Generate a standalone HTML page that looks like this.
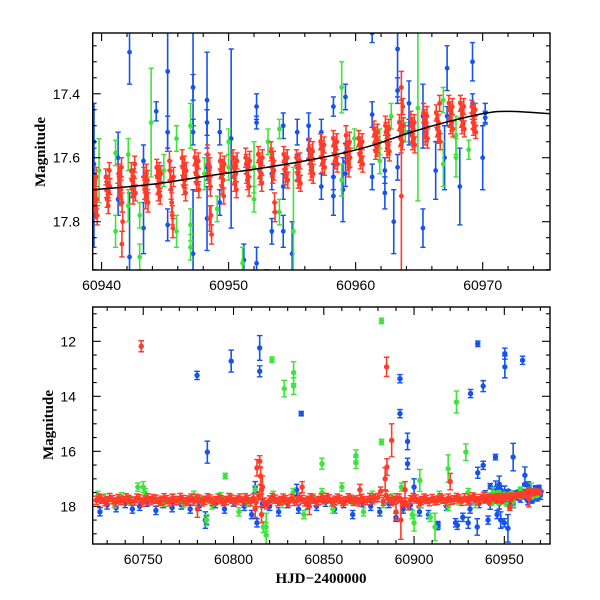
<!DOCTYPE html>
<html>
<head>
<meta charset="utf-8">
<style>
html,body{margin:0;padding:0;background:#fff;width:600px;height:600px;overflow:hidden;}
svg{display:block;}
.tick{font-family:"Liberation Sans",sans-serif;font-size:14px;fill:#000;}
.title{font-family:"Liberation Serif",serif;font-size:15px;font-weight:bold;fill:#000;}
</style>
</head>
<body>
<svg id="chart" width="600" height="600" viewBox="0 0 600 600" xmlns="http://www.w3.org/2000/svg">
<defs>
<clipPath id="clipTop"><rect x="92.7" y="33" width="457.3" height="237"/></clipPath>
<clipPath id="clipBot"><rect x="92.7" y="307" width="457.3" height="237"/></clipPath>
</defs>
<g id="topData" clip-path="url(#clipTop)"></g>
<g id="botData" clip-path="url(#clipBot)"></g>
<g id="axes"></g>
<text class="title" transform="translate(45,152) rotate(-90)" text-anchor="middle">Magnitude</text>
<text class="title" transform="translate(53,425) rotate(-90)" text-anchor="middle">Magnitude</text>
<text class="title" x="321" y="583" text-anchor="middle">HJD−2400000</text>
</svg>
<script>
// ---- data ----
const topXTicks = [60940, 60950, 60960, 60970];
const topYTicks = [17.4, 17.6, 17.8];
const botXTicks = [60750, 60800, 60850, 60900, 60950];
const botYTicks = [12, 14, 16, 18];

const redNightT = [60939.5,60940.5,60941.5,60942.5,60943.5,60944.5,60945.5,60946.5,60947.5,60948.5,60949.5,60950.5,60951.5,60952.5,60953.5,60954.5,60955.5,60956.5,60957.4,60958.4,60959.4,60960.4,60961.6,60962.5,60963.6,60964.5,60965.5,60966.5,60967.5,60968.4,60969.3];
const redNightMags = [
[17.68,17.72,17.74,17.70,17.76,17.66,17.73,17.78],
[17.66,17.70,17.73,17.68,17.75,17.71,17.64,17.69],
[17.65,17.69,17.72,17.66,17.70,17.63,17.74,17.80],
[17.64,17.67,17.70,17.72,17.66,17.69,17.62,17.71],
[17.66,17.70,17.68,17.73,17.65,17.71,17.67,17.74],
[17.63,17.66,17.69,17.71,17.64,17.68,17.72,17.65],
[17.61,17.64,17.67,17.70,17.74,17.78,17.82,17.66],
[17.60,17.63,17.66,17.69,17.62,17.67,17.71,17.64],
[17.60,17.62,17.65,17.68,17.63,17.66,17.61,17.70],
[17.59,17.62,17.65,17.67,17.63,17.69,17.78,17.84],
[17.61,17.64,17.66,17.69,17.63,17.67,17.72,17.62],
[17.60,17.63,17.66,17.68,17.62,17.65,17.70,17.61],
[17.60,17.62,17.65,17.67,17.63,17.66,17.69,17.61],
[17.59,17.61,17.64,17.66,17.62,17.65,17.68,17.60],
[17.58,17.60,17.63,17.65,17.61,17.64,17.74,17.77],
[17.59,17.61,17.64,17.66,17.62,17.65,17.60,17.67],
[17.60,17.62,17.65,17.67,17.63,17.66,17.61,17.68],
[17.57,17.59,17.62,17.64,17.60,17.63,17.58,17.65],
[17.55,17.57,17.60,17.62,17.58,17.61,17.56,17.63],
[17.54,17.56,17.59,17.61,17.57,17.60,17.55,17.62],
[17.53,17.56,17.58,17.61,17.59,17.63,17.55,17.60],
[17.54,17.56,17.59,17.61,17.57,17.60,17.55,17.62],
[17.51,17.53,17.55,17.58,17.54,17.57,17.52,17.56],
[17.50,17.52,17.55,17.57,17.53,17.56,17.51,17.58],
[17.49,17.51,17.54,17.56,17.52,17.55,17.44,17.50],
[17.48,17.50,17.53,17.55,17.51,17.54,17.49,17.56],
[17.46,17.48,17.51,17.53,17.49,17.52,17.47,17.54],
[17.46,17.48,17.51,17.53,17.49,17.52,17.43,17.55],
[17.43,17.45,17.48,17.50,17.46,17.49,17.44,17.51],
[17.43,17.45,17.48,17.50,17.46,17.49,17.44,17.51],
[17.44,17.46,17.49,17.51,17.47,17.50,17.45,17.52]];
const redNightErr = [0.03,0.025,0.03,0.025,0.03,0.025,0.03,0.025,0.025,0.03,0.025,0.025,0.03,0.025,0.03,0.025,0.025,0.03,0.025,0.025,0.03,0.025,0.025,0.03,0.025,0.025,0.03,0.025,0.025,0.025,0.02];

const redBandT = [60724,60727,60730,60733,60736,60739,60742,60745,60748,60751,60754,60757,60760,60763,60766,60769,60772,60775,60778,60781,60784,60787,60790,60793,60796,60799,60802,60805,60808,60811,60814,60817,60820,60823,60826,60829,60832,60835,60838,60841,60844,60847,60850,60853,60856,60859,60862,60865,60868,60871,60874,60877,60880,60883,60886,60889,60892,60895,60898,60901,60904,60907,60910,60913,60916,60919,60922,60925,60928,60931,60934,60937];
const redBandM = [17.78,17.74,17.80,17.76,17.72,17.79,17.75,17.81,17.73,17.77,17.80,17.74,
17.78,17.76,17.71,17.79,17.75,17.77,17.82,17.74,17.78,17.73,17.80,17.76,
17.79,17.74,17.77,17.81,17.75,17.70,17.62,17.85,17.77,17.74,17.79,17.76,
17.72,17.80,17.75,17.78,17.74,17.79,17.76,17.73,17.78,17.75,17.80,17.74,
17.77,17.71,17.79,17.76,17.68,17.82,17.74,17.78,17.70,17.85,17.76,17.73,
17.79,17.75,17.72,17.78,17.74,17.70,17.76,17.73,17.69,17.74,17.71,17.72];
const redBand2M = [17.70,17.83,17.68,17.84,17.79,17.69,17.82,17.70,17.85,17.69,17.72,17.83,
17.69,17.84,17.80,17.68,17.83,17.70,17.71,17.84,17.69,17.82,17.70,17.83,
17.68,17.83,17.70,17.69,17.84,17.86,17.40,17.95,17.68,17.83,17.70,17.84,
17.82,17.68,17.84,17.69,17.83,17.70,17.68,17.84,17.70,17.83,17.69,17.82,
17.84,17.80,17.68,17.70,17.45,17.60,17.83,17.69,17.85,17.98,17.68,17.84,
17.70,17.83,17.80,17.69,17.83,17.78,17.68,17.82,17.80,17.66,17.80,17.64];

const redOut = [[60748.9,12.18,0.2],[60884.8,12.93,0.35],[60887.6,15.6,0.6],[60885,16.57,0.3],[60884,17.0,0.4],[60813,16.6,0.3],[60814.5,16.36,0.2],[60815,16.9,0.3],[60816,17.3,0.4],[60812,18.1,0.3],[60815.5,18.3,0.3],[60890,18.2,0.3],[60892.7,18.5,0.7],[60895,17.4,0.3],[60838,17.3,0.2],[60842,18.0,0.3],[60780,18.1,0.3],[60870,17.4,0.2],[60920,17.1,0.3],[60953,18.05,0.1],[60941.6,17.87,0.04],[60948.5,17.79,0.04],[60963.6,17.38,0.05],[60963.6,17.72,0.30]];

const blueTop = [[60939.4,17.55,0.12],[60939.4,17.78,0.10],[60939.4,17.62,0.05],[60942.2,17.27,0.10],[60942.2,17.91,0.20],[60941.3,17.60,0.08],[60941.3,17.73,0.05],[60943.3,17.61,0.05],[60943.3,17.82,0.08],[60944.3,17.455,0.03],[60945.2,17.33,0.25],[60945.2,17.52,0.05],[60945.2,17.81,0.05],[60947.2,17.20,0.30],[60947.2,17.38,0.04],[60947.2,17.52,0.04],[60947.2,17.90,0.20],[60948.3,17.42,0.15],[60948.3,17.49,0.04],[60948.3,17.63,0.04],[60948.3,17.79,0.10],[60949.3,17.52,0.04],[60949.3,17.74,0.04],[60950.2,17.54,0.28],[60951.2,17.92,0.05],[60952.2,17.44,0.04],[60952.2,17.49,0.02],[60952.2,17.93,0.05],[60953.4,17.65,0.05],[60953.4,17.83,0.04],[60954.3,17.50,0.04],[60954.3,17.69,0.04],[60954.3,17.83,0.05],[60955.4,17.52,0.04],[60955.4,17.63,0.04],[60956.3,17.50,0.04],[60956.3,17.575,0.03],[60957.3,17.52,0.04],[60957.3,17.69,0.04],[60958.25,17.44,0.03],[60958.25,17.66,0.04],[60958.25,17.72,0.06],[60959.2,17.41,0.04],[60959.2,17.585,0.03],[60959.2,17.65,0.04],[60961.3,17.21,0.03],[60961.3,17.465,0.04],[60961.3,17.66,0.04],[60962.3,17.64,0.04],[60962.3,17.71,0.05],[60963.3,17.26,0.15],[60963.3,17.39,0.04],[60963.3,17.63,0.04],[60964.2,17.43,0.07],[60964.2,17.52,0.04],[60965.3,17.82,0.06],[60965.3,17.47,0.10],[60966.3,17.64,0.09],[60967.2,17.32,0.07],[60967.2,17.47,0.03],[60968.2,17.69,0.12],[60969.2,17.30,0.06],[60969.2,17.43,0.03],[60970.2,17.46,0.03],[60970.2,17.475,0.02]];

const blueBandT = [60726,60730,60735,60740,60744,60748,60752,60757,60761,60766,60771,60776,60781,60785,60790,60795,60800,60806,60810,60813,60816,60820,60825,60830,60836,60841,60846,60851,60856,60861,60866,60871,60876,60881,60886,60890,60894,60898,60903,60908,60913,60918,60923,60927,60931,60936,60941,60946,60950,60955,60959,60963,60967,60970];
const blueBandM = [18.2,17.95,18.05,17.9,18.1,18.0,17.85,18.15,17.9,18.05,17.95,18.1,18.0,18.5,17.9,18.1,17.85,18.0,18.3,18.6,17.9,18.0,18.2,17.9,18.1,17.95,18.0,17.85,18.1,17.9,18.3,17.85,18.0,18.2,17.9,18.4,18.1,17.95,18.2,18.3,18.7,18.0,18.6,18.4,18.1,17.9,18.5,18.3,18.6,17.9,17.7,17.8,17.6,17.6];

const blueOut = [[60779.8,13.24,0.15],[60798.7,12.72,0.4],[60814.5,12.24,0.45],[60814.5,13.09,0.2],[60837.5,14.63,0.08],[60785.5,16.03,0.4],[60892.2,13.36,0.15],[60892.2,14.63,0.15],[60896.4,15.64,0.3],[60896.4,16.45,0.2],[60931.3,13.9,0.15],[60938.3,13.63,0.2],[60935.3,12.09,0.1],[60950.3,12.45,0.2],[60950.3,12.93,0.4],[60960.1,12.69,0.15],[60945.1,16.21,0.1],[60954.9,16.21,0.5],[60938.3,16.51,0.15],[60935.3,16.78,0.2],[60961.4,16.87,0.3],[60913.3,18.69,0.1],[60924,18.69,0.15],[60930,18.6,0.2],[60935,18.75,0.3],[60948,18.5,0.3],[60952,18.8,0.5],[60784.4,18.5,0.3],[60812,17.3,0.2],[60835,17.4,0.2],[60900,17.3,0.3]];

const greenTop = [[60939.8,17.64,0.10],[60941.1,17.83,0.05],[60941.1,17.585,0.04],[60942.1,17.59,0.05],[60942.1,17.75,0.05],[60943.0,17.78,0.04],[60943.0,17.91,0.04],[60943.9,17.49,0.17],[60944.9,17.64,0.05],[60945.9,17.54,0.04],[60945.9,17.83,0.05],[60947.0,17.50,0.07],[60947.0,17.81,0.05],[60947.0,17.88,0.04],[60948.1,17.65,0.05],[60949.1,17.76,0.04],[60950.0,17.55,0.04],[60950.0,17.63,0.04],[60951.1,17.93,0.05],[60952.0,17.63,0.08],[60952.0,17.73,0.04],[60953.1,17.55,0.04],[60954.0,17.51,0.03],[60954.0,17.77,0.04],[60955.1,17.83,0.20],[60958.9,17.38,0.08],[60958.9,17.67,0.05],[60959.9,17.54,0.03],[60961.9,17.55,0.04],[60961.9,17.61,0.04],[60962.8,17.47,0.04],[60963.9,17.52,0.03],[60964.9,17.445,0.29],[60966.9,17.62,0.07],[60966.9,17.42,0.04],[60967.9,17.53,0.06],[60967.9,17.60,0.06],[60968.9,17.575,0.03]];

const greenBandT = [60725,60729,60734,60738,60743,60747,60751,60756,60762,60767,60772,60778,60783,60788,60793,60798,60803,60808,60812,60818,60822,60827,60833,60839,60844,60849,60855,60860,60866,60872,60877,60883,60888,60893,60899,60904,60909,60914,60919,60925,60930,60934];
const greenBandM = [17.6,17.7,17.9,17.65,17.8,17.3,17.5,17.75,17.85,17.7,17.9,17.6,17.8,17.95,17.65,17.7,18.2,17.85,17.4,18.75,17.6,17.9,17.5,18.3,17.7,17.5,18.1,17.3,17.8,18.2,17.6,17.9,17.7,17.3,18.3,17.9,18.4,17.6,18.0,17.8,17.5,17.9];

const greenOut = [[60821.3,12.67,0.1],[60828.1,13.72,0.3],[60833.3,13.14,0.4],[60833.3,13.63,0.3],[60795.4,16.9,0.1],[60849,16.45,0.2],[60882,11.26,0.1],[60882,15.66,0.1],[60867.8,16.15,0.2],[60867.8,16.42,0.2],[60923.5,14.21,0.4],[60928.7,16.03,0.3],[60918.9,16.63,0.5],[60903.2,17.06,0.4],[60911.6,18.75,0.5],[60818.1,19.05,0.8],[60816.5,18.75,0.2],[60750,17.3,0.2],[60785,18.5,0.2],[60900,18.6,0.3]];

const curveT = [60939.3,60944,60948.3,60953,60957.3,60961,60964,60967,60970.3,60972.2,60975.3];
const curveM = [17.70,17.683,17.657,17.63,17.60,17.565,17.525,17.49,17.46,17.455,17.462];

// ---- layout ----
const NS = "http://www.w3.org/2000/svg";
const TOP = {x0:92.7, x1:550, y0:33, y1:270, d0:60939.3, d1:60975.3, m0:17.21, m1:17.951, r:2.4, cap:2.6, band:0.1};
const BOT = {x0:92.7, x1:550, y0:307, y1:544, d0:60722, d1:60975.3, m0:10.753, m1:19.37, r:2.7, cap:2.8, band:0.15};
function xs(p, t){ return p.x0 + (t - p.d0) / (p.d1 - p.d0) * (p.x1 - p.x0); }
function ys(p, m){ return p.y0 + (m - p.m0) / (p.m1 - p.m0) * (p.y1 - p.y0); }
const COLORS = {blue:"#1553ec", green:"#3de43a", red:"#ff3c2a"};

function mk(tag, attrs, parent){
  const el = document.createElementNS(NS, tag);
  for (const k in attrs) el.setAttribute(k, attrs[k]);
  parent.appendChild(el);
  return el;
}

function drawPoint(g, p, t, m, e, color, name){
  if (t < p.d0 || t > p.d1) return;
  if (m + e < p.m0 || m - e > p.m1) return;
  const x = xs(p, t), y = ys(p, m);
  const yaRaw = ys(p, m - e), ybRaw = ys(p, m + e);
  const ya = Math.max(p.y0, yaRaw), yb = Math.min(p.y1, ybRaw);
  const grp = mk("g", {}, g);
  
  
  mk("line", {x1:x, y1:ya, x2:x, y2:yb, stroke:color, "stroke-width":1.6}, grp);
  if (yaRaw >= p.y0) mk("line", {x1:x-p.cap, y1:ya, x2:x+p.cap, y2:ya, stroke:color, "stroke-width":1.4}, grp);
  if (ybRaw <= p.y1) mk("line", {x1:x-p.cap, y1:yb, x2:x+p.cap, y2:yb, stroke:color, "stroke-width":1.4}, grp);
  if (y >= p.y0 - 3 && y <= p.y1 + 3) mk("circle", {cx:x, cy:y, r:p.r, fill:color}, grp);
}

function drawAll(g, p){
  blueBandT.forEach((t,i)=>drawPoint(g,p,t,blueBandM[i],p.band,COLORS.blue,'blue-point'));
  blueOut.forEach(d=>drawPoint(g,p,d[0],d[1],d[2],COLORS.blue,'blue-point'));
  blueTop.forEach(d=>drawPoint(g,p,d[0],d[1],d[2],COLORS.blue,'blue-point'));
  greenBandT.forEach((t,i)=>drawPoint(g,p,t,greenBandM[i],p.band,COLORS.green,'green-point'));
  greenOut.forEach(d=>drawPoint(g,p,d[0],d[1],d[2],COLORS.green,'green-point'));
  greenTop.forEach(d=>drawPoint(g,p,d[0],d[1],d[2],COLORS.green,'green-point'));
  redBandT.forEach((t,i)=>{
    drawPoint(g,p,t,redBandM[i],p.band,COLORS.red,'red-point');
    drawPoint(g,p,t+1.5,redBand2M[i],p.band,COLORS.red,'red-point');
  });
  redNightT.forEach((t,i)=>{
    const ms = redNightMags[i];
    ms.forEach((m,j)=>{
      const tt = t + (j - (ms.length-1)/2) * 0.045;
      drawPoint(g,p,tt,m,redNightErr[i],COLORS.red,'red-point');
    });
  });
  redOut.forEach(d=>drawPoint(g,p,d[0],d[1],d[2],COLORS.red,'red-point'));
}

const topG = document.getElementById('topData');
const botG = document.getElementById('botData');
drawAll(topG, TOP);
drawAll(botG, BOT);

(function(){
  const pts = curveT.map((t,i)=>[xs(TOP,t), ys(TOP,curveM[i])]);
  let d = "M"+pts[0][0]+","+pts[0][1];
  for (let i=0;i<pts.length-1;i++){
    const p0 = pts[Math.max(0,i-1)], p1 = pts[i], p2 = pts[i+1], p3 = pts[Math.min(pts.length-1,i+2)];
    const c1x = p1[0]+(p2[0]-p0[0])/6, c1y = p1[1]+(p2[1]-p0[1])/6;
    const c2x = p2[0]-(p3[0]-p1[0])/6, c2y = p2[1]-(p3[1]-p1[1])/6;
    d += " C"+c1x+","+c1y+" "+c2x+","+c2y+" "+p2[0]+","+p2[1];
  }
  const path = mk("path", {d:d, fill:"none", stroke:"#000", "stroke-width":1.5}, topG);
  
  
})();

// ---- axes ----
const axes = document.getElementById('axes');
function drawFrame(p, name, xMajor, xMinorStep, xMinorStart, yMajor, yMinorStep, yMinorStart, labelRight, xFmt){
  const fr = mk("rect", {x:p.x0, y:p.y0, width:p.x1-p.x0, height:p.y1-p.y0, fill:"none", stroke:"#000", "stroke-width":1.4}, axes);
  
  
  const tg = mk("g", {stroke:"#000", "stroke-width":1.1}, axes);
  
  
  for (let t = xMinorStart; t <= p.d1; t += xMinorStep){
    const x = xs(p,t); if (x < p.x0 || x > p.x1) continue;
    const major = xMajor.some(v=>Math.abs(v-t)<1e-6);
    const L = major ? 8 : 4;
    mk("line",{x1:x,y1:p.y1,x2:x,y2:p.y1-L},tg);
    mk("line",{x1:x,y1:p.y0,x2:x,y2:p.y0+L},tg);
  }
  for (let k = 0; ; k++){
    const m = +(yMinorStart + k*yMinorStep).toFixed(4);
    if (m > p.m1) break;
    const y = ys(p,m); if (y < p.y0 || y > p.y1) continue;
    const major = yMajor.some(v=>Math.abs(v-m)<1e-6);
    const L = major ? 8 : 4;
    mk("line",{x1:p.x0,y1:y,x2:p.x0+L,y2:y},tg);
    mk("line",{x1:p.x1,y1:y,x2:p.x1-L,y2:y},tg);
  }
  xMajor.forEach(v=>{
    const tx = mk("text",{x:xs(p,v), y:p.y1+20, "text-anchor":"middle", class:"tick"}, axes);
    tx.textContent = String(v);
    
    
  });
  yMajor.forEach(v=>{
    const ty = mk("text",{x:labelRight, y:ys(p,v)+5, "text-anchor":"end", class:"tick"}, axes);
    ty.textContent = xFmt(v);
    
    
  });
}
drawFrame(TOP, 'top-panel', topXTicks, 2, 60940, topYTicks, 0.05, 17.25, 80, v=>v.toFixed(1));
drawFrame(BOT, 'bottom-panel', botXTicks, 10, 60730, botYTicks, 0.5, 11, 76, v=>String(v));
</script>
</body>
</html>
